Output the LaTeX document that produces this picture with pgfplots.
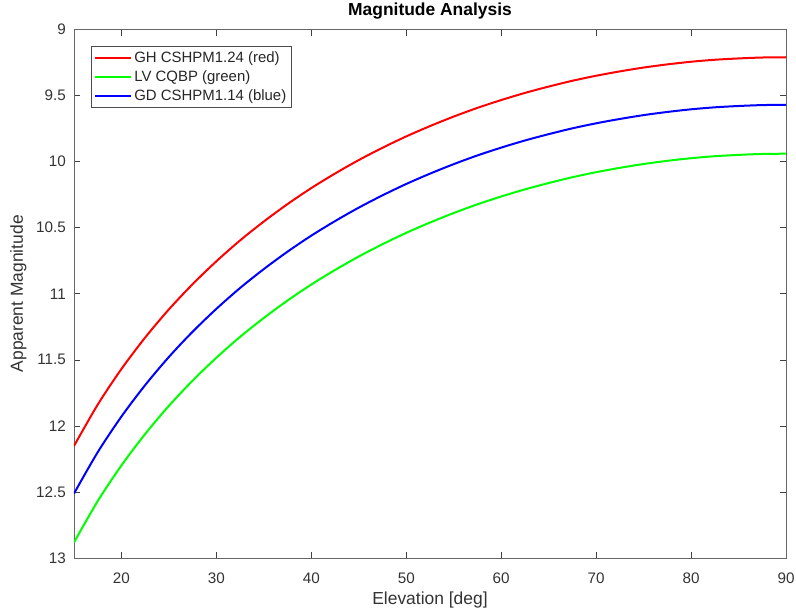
\documentclass[border=0pt]{standalone}
\usepackage{fontspec}
\setmainfont{Liberation Sans}
\usepackage{pgfplots}
\pgfplotsset{compat=1.18}
\usepackage{pgfplotstable}

% elevation [deg] vs apparent magnitude
\pgfplotstableread{
elev red    green  blue
15   12.152 12.882 12.512
17.5 11.839 12.569 12.199
20   11.569 12.299 11.929
22.5 11.331 12.061 11.691
25   11.118 11.848 11.478
27.5 10.927 11.657 11.287
30   10.754 11.484 11.114
32.5 10.596 11.326 10.956
35   10.453 11.183 10.813
37.5 10.321 11.051 10.681
40   10.200 10.930 10.560
42.5 10.090 10.820 10.450
45   9.988  10.718 10.348
47.5 9.895  10.625 10.255
50   9.809  10.539 10.169
52.5 9.731  10.461 10.091
55   9.659  10.389 10.019
57.5 9.593  10.323 9.953
60   9.534  10.264 9.894
62.5 9.480  10.210 9.840
65   9.432  10.162 9.792
67.5 9.388  10.118 9.748
70   9.350  10.080 9.710
72.5 9.317  10.047 9.677
75   9.288  10.018 9.648
77.5 9.264  9.994  9.624
80   9.244  9.974  9.604
82.5 9.229  9.959  9.589
85   9.219  9.949  9.579
87.5 9.212  9.942  9.572
90   9.210  9.940  9.570
}\magdata

\begin{document}
\begin{tikzpicture}
\begin{axis}[
  scale only axis,
  width=712bp, height=528.5bp,
  xmin=15, xmax=90, ymin=9, ymax=13,
  y dir=reverse,
  xtick={20,30,40,50,60,70,80,90},
  ytick={9,9.5,10,10.5,11,11.5,12,12.5,13},
  /pgf/number format/assume math mode=true,
  tick align=inside,
  major tick length=6bp,
  tick style={black!75, line width=0.6bp},
  axis line style={black!60, line width=0.7bp},
  tick label style={font=\fontsize{15.3}{18}\selectfont, text=black!80, inner sep=0pt},
  xticklabel style={anchor=north, yshift=-15bp},
  yticklabel style={anchor=east, xshift=-8bp},
  xlabel={Elevation [deg]},
  ylabel={Apparent Magnitude},
  label style={font=\fontsize{17.5}{21}\selectfont, text=black!80, inner sep=0pt},
  xlabel style={at={(axis description cs:0.5,0)}, anchor=north, yshift=-34bp},
  ylabel style={at={(axis description cs:-0.0664,0.5)}, rotate=0, anchor=south},
  title={Magnitude Analysis},
  title style={font=\bfseries\fontsize{17.5}{21}\selectfont, at={(axis description cs:0.5,1)}, anchor=base, yshift=8.5bp, inner sep=0pt},
  legend style={at={(axis description cs:0.0239,0.9688)}, anchor=north west,
    draw=black!70, line width=0.6bp, fill=white,
    font=\fontsize{15}{18}\selectfont, text=black!85,
    inner xsep=3bp, inner ysep=2bp,
    nodes={inner xsep=2bp, inner ysep=3.3bp}},
  legend cell align=left,
  legend image code/.code={\draw[#1] (0bp,0bp) -- (36bp,0bp);},
]
\addplot[red, line width=2bp, smooth] table[x=elev, y=red] {\magdata};
\addplot[green, line width=2bp, smooth] table[x=elev, y=green] {\magdata};
\addplot[blue, line width=2bp, smooth] table[x=elev, y=blue] {\magdata};
\legend{GH CSHPM1.24 (red), LV CQBP (green), GD CSHPM1.14 (blue)}
\coordinate (bl) at (axis description cs:0,0);
\coordinate (tr) at (axis description cs:1,1);
\end{axis}
\pgfresetboundingbox
\path ([shift={(-74bp,-53bp)}]bl) rectangle ([shift={(10bp,29.5bp)}]tr);
\end{tikzpicture}
\end{document}
